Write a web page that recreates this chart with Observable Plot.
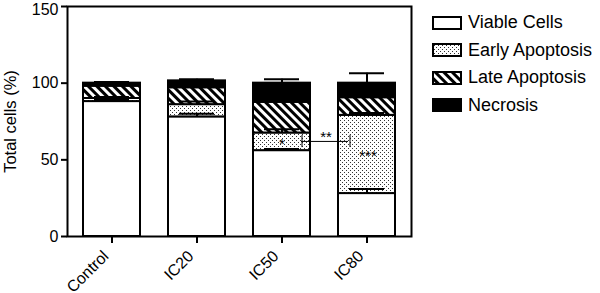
<!DOCTYPE html>
<html><head><meta charset="utf-8">
<script src="https://cdn.jsdelivr.net/npm/d3@7"></script>
<script src="https://cdn.jsdelivr.net/npm/@observablehq/plot@0.6"></script>
<style>
body{margin:0;background:#fff;}
#wrap{position:relative;width:600px;height:293px;font-family:"Liberation Sans",Arial,sans-serif;}
.row{position:absolute;left:432px;height:14px;display:flex;align-items:center;white-space:nowrap;font-size:18px;color:#000;}
.row svg{flex:none;margin-right:6px;}
</style></head><body><div id="wrap"></div>
<script>
const categories = ["Control", "IC20", "IC50", "IC80"];
const series = ["Viable Cells", "Early Apoptosis", "Late Apoptosis", "Necrosis"];
const viable = [88, 78, 56, 28];
const early = [2, 8, 11.5, 51];
const late = [8, 11, 20, 11.5];
const necrosis = [2, 4.5, 12.5, 9.5];
const viableSD = [1, 2, 1, 3];
const earlySD = [1, 2, 2.5, 1.5];
const lateSD = [1, 1, 1, 1];
const necrosisSD = [0.7, 1, 2.5, 6.5];
const yTicks = [0, 50, 100, 150];
const yLabel = "Total cells (%)";
const sigLabels = ["*", "**", "***"];
const sigGroups = ["IC50", "IC50", "IC80"];
const sigValues = [60, 65, 52.5];
const sigShift = [0, 44, 1];
const bracketValue = 62;
const bracketEnds = [58, 66];
const fills = ["white", "url(#dots)", "url(#hatch)", "black"];

const vals = [viable, early, late, necrosis];
const sds = [viableSD, earlySD, lateSD, necrosisSD];
const rows = [];
const errs = [];
categories.forEach((c, i) => {
  let acc = 0;
  series.forEach((s, j) => {
    rows.push({group: c, series: s, value: vals[j][i]});
    acc += vals[j][i];
    errs.push({group: c, top: acc, hi: acc + sds[j][i]});
  });
});
const sig = sigLabels.map((t, i) => ({text: t, group: sigGroups[i], y: sigValues[i], dx: sigShift[i]}));

const chart = Plot.plot({
  width: 600, height: 293,
  marginLeft: 67, marginRight: 189, marginTop: 6, marginBottom: 57,
  style: {fontSize: "16px", fontFamily: "Liberation Sans, Arial, sans-serif", background: "white", color: "black", overflow: "visible"},
  x: {domain: categories, paddingInner: 0.33, paddingOuter: 0.18, tickRotate: -45, tickSize: 7, tickPadding: 6, label: null},
  y: {domain: [0, 150], ticks: yTicks, tickSize: 6, tickPadding: 3, label: yLabel, labelArrow: "none", labelAnchor: "center", labelOffset: 63},
  color: {type: "ordinal", domain: series, range: fills},
  marks: [
    Plot.barY(rows, Plot.stackY({x: "group", y: "value", fill: "series", stroke: "black", strokeWidth: 2})),
    Plot.ruleX(errs, {x: "group", y1: "top", y2: "hi", stroke: "black", strokeWidth: 2}),
    Plot.tickY(errs, {x: "group", y: "hi", stroke: "black", strokeWidth: 2, insetLeft: 11, insetRight: 11}),
    Plot.ruleY([bracketValue], {x1: () => "IC50", x2: () => "IC80", insetLeft: 48, insetRight: 47, stroke: "black", strokeWidth: 1}),
    Plot.ruleX([0], {x: () => "IC50", y1: bracketEnds[0], y2: bracketEnds[1], dx: 20, stroke: "black", strokeWidth: 1}),
    Plot.ruleX([0], {x: () => "IC80", y1: bracketEnds[0], y2: bracketEnds[1], dx: -17, stroke: "black", strokeWidth: 1}),
    ...sig.map(d => Plot.text([d], {x: "group", y: "y", text: "text", dx: d.dx, fontSize: 15, fill: "black"})),
    Plot.frame({stroke: "black", strokeWidth: 2})
  ]
});

const svg = d3.select(chart);
const defs = svg.insert("defs", ":first-child");
const dots = defs.append("pattern").attr("id", "dots").attr("width", 4).attr("height", 4).attr("patternUnits", "userSpaceOnUse");
dots.append("rect").attr("width", 4).attr("height", 4).attr("fill", "white");
dots.append("rect").attr("x", 0).attr("y", 0).attr("width", 1).attr("height", 1).attr("fill", "#333");
dots.append("rect").attr("x", 2).attr("y", 2).attr("width", 1).attr("height", 1).attr("fill", "#333");
const hatch = defs.append("pattern").attr("id", "hatch").attr("width", 6).attr("height", 6).attr("patternUnits", "userSpaceOnUse").attr("patternTransform", "rotate(-45)");
hatch.append("rect").attr("width", 6).attr("height", 6).attr("fill", "white");
hatch.append("rect").attr("width", 3).attr("height", 6).attr("fill", "black");

svg.selectAll("text").each(function() {
  const txt = this.textContent;
  if (txt.includes("Total cells")) {
    this.textContent = yLabel;
    d3.select(this).style("font-size", "16.5px");
  } else if (txt === "150") {
    const tr = this.getAttribute("transform") || "";
    this.setAttribute("transform", "translate(0,3) " + tr);
  } else if (categories.includes(txt)) {
    const tr = this.getAttribute("transform") || "";
    this.setAttribute("transform", "translate(-6,4) " + tr);
  }
});
svg.selectAll('[aria-label*="axis"] line, [aria-label*="axis tick"] path').attr("stroke-width", 2).attr("stroke", "black");

const wrap = document.getElementById("wrap");
wrap.appendChild(chart);

const centers = [22.5, 50, 77.5, 105];
series.forEach((s, i) => {
  const row = document.createElement("div");
  row.className = "row";
  row.style.top = (centers[i] - 7) + "px";
  const sw = d3.create("svg").attr("width", 30).attr("height", 14);
  sw.append("rect").attr("x", 1).attr("y", 1).attr("width", 28).attr("height", 12).attr("fill", fills[i]).attr("stroke", "black").attr("stroke-width", 2);
  row.appendChild(sw.node());
  const t = document.createElement("span");
  t.textContent = s;
  row.appendChild(t);
  wrap.appendChild(row);
});
</script></body></html>
